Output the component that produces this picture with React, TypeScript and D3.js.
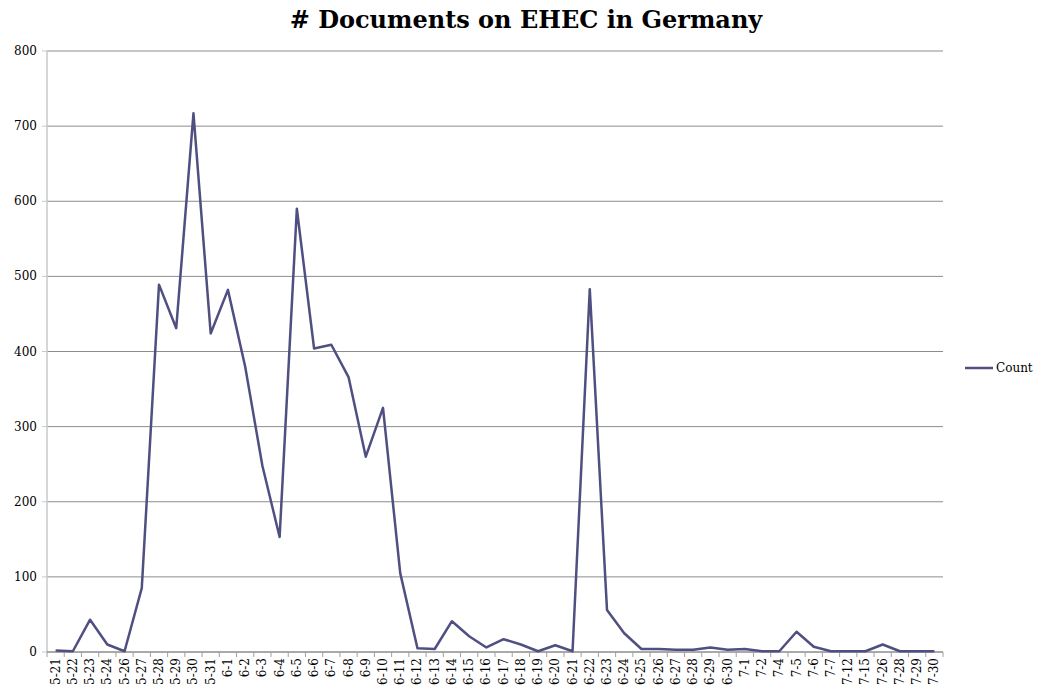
import React from 'react';
import * as d3 from 'd3';

const dates = [
  '5-21', '5-22', '5-23', '5-24', '5-26', '5-27', '5-28', '5-29', '5-30', '5-31',
  '6-1', '6-2', '6-3', '6-4', '6-5', '6-6', '6-7', '6-8', '6-9', '6-10',
  '6-11', '6-12', '6-13', '6-14', '6-15', '6-16', '6-17', '6-18', '6-19', '6-20',
  '6-21', '6-22', '6-23', '6-24', '6-25', '6-26', '6-27', '6-28', '6-29', '6-30',
  '7-1', '7-2', '7-4', '7-5', '7-6', '7-7', '7-12', '7-15', '7-26', '7-28', '7-29', '7-30',
];

const counts = [
  2, 1, 43, 10, 1, 85, 489, 431, 717, 424,
  482, 380, 248, 153, 590, 404, 409, 366, 260, 325,
  105, 5, 4, 41, 21, 6, 17, 10, 1, 9,
  1, 483, 56, 25, 4, 4, 3, 3, 6, 3,
  4, 1, 1, 27, 7, 1, 1, 1, 10, 1, 1, 1,
];

const yTicks = [0, 100, 200, 300, 400, 500, 600, 700, 800];

const width = 1040;
const height = 693;
const margin = { top: 51, right: 97, bottom: 41, left: 47 };
const lineColor = '#4f4f81';
const font = '"DejaVu Serif", "Liberation Serif", serif';

const App: React.FC = () => {
  const x = d3.scaleBand<string>()
    .domain(dates)
    .range([margin.left, width - margin.right]);

  const y = d3.scaleLinear()
    .domain([0, 800])
    .range([height - margin.bottom, margin.top]);

  const line = d3.line<number>()
    .x((_, i) => (x(dates[i]) || 0) + x.bandwidth() / 2)
    .y(d => y(d));

  const base = y(0);

  return (
    <svg width={width} height={height} style={{ position: 'absolute', left: 0, top: 0, background: '#fff' }}>
      <text x={526} y={28} textAnchor="middle" fontFamily={font} fontWeight="bold" fontSize={24} fill="#000">
        # Documents on EHEC in Germany
      </text>

      {/* gridlines */}
      {yTicks.filter(t => t > 0).map(t => (
        <line key={t} x1={margin.left} x2={width - margin.right} y1={y(t)} y2={y(t)} stroke="#8c8c8c" strokeWidth={1} />
      ))}

      {/* y axis */}
      <line x1={margin.left} x2={margin.left} y1={margin.top} y2={base} stroke="#c8c8c8" strokeWidth={1.5} />
      {yTicks.map(t => (
        <g key={t}>
          <line x1={margin.left - 5} x2={margin.left} y1={y(t)} y2={y(t)} stroke="#c8c8c8" />
          <text x={37} y={y(t) + 4} textAnchor="end" fontFamily={font} fontSize={12} fill="#000">{t}</text>
        </g>
      ))}

      {/* x axis */}
      <line x1={margin.left} x2={width - margin.right} y1={base} y2={base} stroke="#8c8c8c" strokeWidth={1.5} />
      {dates.map(d => (
        <line key={'t' + d} x1={x(d) || 0} x2={x(d) || 0} y1={base} y2={base + 5} stroke="#a0a0a0" />
      ))}
      <line x1={width - margin.right} x2={width - margin.right} y1={base} y2={base + 5} stroke="#a0a0a0" />
      {dates.map(d => {
        const cx = (x(d) || 0) + x.bandwidth() / 2;
        return (
          <text key={'l' + d} transform={`translate(${cx + 4},${base + 6}) rotate(-90)`} textAnchor="end"
            fontFamily={font} fontSize={12} fill="#000">{d}</text>
        );
      })}

      <path d={line(counts) || ''} fill="none" stroke={lineColor} strokeWidth={2.5} strokeLinejoin="round" />

      {/* legend */}
      <line x1={965} x2={993} y1={368} y2={368} stroke={lineColor} strokeWidth={2.5} />
      <text x={996} y={372} fontFamily={font} fontSize={12} fill="#000">Count</text>
    </svg>
  );
};

export default App;
